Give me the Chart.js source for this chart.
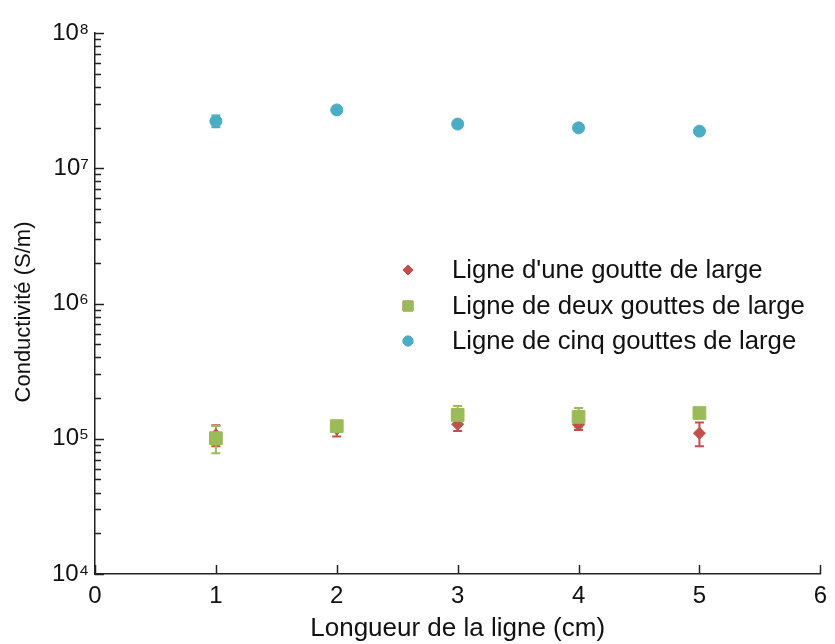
<!DOCTYPE html>
<html>
<head>
<meta charset="utf-8">
<script src="https://cdn.jsdelivr.net/npm/chart.js@4/dist/chart.umd.min.js"></script>
<style>
  html, body { margin: 0; padding: 0; background: #fff; }
  #wrap { width: 835px; height: 644px; }
</style>
</head>
<body>
<div id="wrap"><canvas id="c" width="835" height="644"></canvas></div>
<script>
// Line length (cm)
const lengths = [1, 2, 3, 4, 5];

// Conductivity (S/m) and error for each line width
const oneDrop = [1.07e5, 1.18e5, 1.28e5, 1.27e5, 1.10e5];
const oneDropErr = [1.9e4, 1.4e4, 1.4e4, 1.1e4, 2.2e4];

const twoDrops = [1.01e5, 1.24e5, 1.50e5, 1.45e5, 1.55e5];
const twoDropsErr = [2.3e4, 8e3, 2.5e4, 2.4e4, 1.0e4];

const fiveDrops = [2.23e7, 2.70e7, 2.12e7, 1.99e7, 1.88e7];
const fiveDropsErr = [2.2e6, 1.0e6, 0.8e6, 0.6e6, 0.6e6];

const seriesLabels = [
  "Ligne d'une goutte de large",
  "Ligne de deux gouttes de large",
  "Ligne de cinq gouttes de large"
];

// Axis ticks
const xTickValues = [0, 1, 2, 3, 4, 5, 6];
const yDecades = [1e4, 1e5, 1e6, 1e7, 1e8];
const yTickLabels = ['10\u2074', '10\u2075', '10\u2076', '10\u2077', '10\u2078'];

const RED = '#c0504d', GREEN = '#9bbb59', CYAN = '#4bacc6';
const TEXT = '#111111';

function pts(ys) { return lengths.map((x, i) => ({ x: x, y: ys[i] })); }

// Minor ticks 2..9 within each decade
function logTicks() {
  const t = [];
  for (let d = 0; d < yDecades.length; d++) {
    t.push({ value: yDecades[d], major: true });
    if (d < yDecades.length - 1) {
      for (let m = 2; m <= 9; m++) t.push({ value: yDecades[d] * m, major: false });
    }
  }
  return t;
}

// Error bars, drawn beneath the markers
const errorBars = {
  id: 'errorBars',
  beforeDatasetsDraw(chart) {
    const ctx = chart.ctx, xs = chart.scales.x, ys = chart.scales.y;
    chart.data.datasets.forEach((ds) => {
      ctx.save();
      ctx.strokeStyle = ds.borderColor;
      ctx.lineWidth = 2;
      ds.data.forEach((p, i) => {
        const e = ds.errors[i];
        const px = xs.getPixelForValue(p.x);
        const top = ys.getPixelForValue(p.y + e);
        const bot = ys.getPixelForValue(p.y - e);
        ctx.beginPath();
        ctx.moveTo(px, top); ctx.lineTo(px, bot);
        ctx.moveTo(px - 4.5, top); ctx.lineTo(px + 4.5, top);
        ctx.moveTo(px - 4.5, bot); ctx.lineTo(px + 4.5, bot);
        ctx.stroke();
      });
      ctx.restore();
    });
  }
};

// Inward tick marks, y title and in-plot legend
const decorations = {
  id: 'decorations',
  afterDraw(chart) {
    const ctx = chart.ctx, xs = chart.scales.x, ys = chart.scales.y;
    const a = chart.chartArea;
    ctx.save();
    ctx.strokeStyle = '#222';
    ctx.lineWidth = 1.5;
    ctx.beginPath();
    xs.ticks.forEach(t => {
      const px = Math.round(xs.getPixelForValue(t.value)) + 0.5;
      ctx.moveTo(px, a.bottom); ctx.lineTo(px, a.bottom - 9);
    });
    ys.ticks.forEach(t => {
      const py = Math.round(ys.getPixelForValue(t.value)) + 0.5;
      ctx.moveTo(a.left, py); ctx.lineTo(a.left + (t.major ? 9 : 6), py);
    });
    ctx.stroke();

    // y axis title
    ctx.fillStyle = TEXT;
    ctx.font = '22px "Liberation Sans", Arial, sans-serif';
    ctx.textAlign = 'center';
    ctx.textBaseline = 'middle';
    ctx.translate(24, 312);
    ctx.rotate(-Math.PI / 2);
    ctx.fillText('Conductivit\u00e9 (S/m)', 0, 0);
    ctx.restore();

    // legend
    ctx.save();
    ctx.font = '25.7px "Liberation Sans", Arial, sans-serif';
    ctx.textAlign = 'left';
    ctx.textBaseline = 'middle';
    const rows = [270, 306, 341];
    const styles = ['rectRot', 'rect', 'circle'];
    const radii = [5, 7, 5];
    chart.data.datasets.forEach((ds, i) => {
      Chart.helpers.drawPoint(ctx, {
        pointStyle: styles[i], radius: radii[i], borderWidth: 1, rotation: 0
      }, 408, rows[i]);
      ctx.fillStyle = ds.backgroundColor;
      ctx.strokeStyle = ds.borderColor;
      ctx.fill(); ctx.stroke();
      ctx.fillStyle = TEXT;
      ctx.fillText(ds.label, 452, rows[i] + 1);
    });
    ctx.restore();
  }
};

new Chart(document.getElementById('c'), {
  type: 'scatter',
  data: {
    datasets: [
      { label: seriesLabels[0], data: pts(oneDrop), errors: oneDropErr,
        pointStyle: 'rectRot', pointRadius: 6, pointHoverRadius: 6,
        backgroundColor: RED, borderColor: RED, borderWidth: 1, order: 1 },
      { label: seriesLabels[1], data: pts(twoDrops), errors: twoDropsErr,
        pointStyle: 'rect', pointRadius: 9, pointHoverRadius: 9,
        backgroundColor: GREEN, borderColor: GREEN, borderWidth: 1, order: 0 },
      { label: seriesLabels[2], data: pts(fiveDrops), errors: fiveDropsErr,
        pointStyle: 'circle', pointRadius: 6, pointHoverRadius: 6,
        backgroundColor: CYAN, borderColor: CYAN, borderWidth: 1, order: 2 }
    ]
  },
  options: {
    responsive: false,
    animation: false,
    events: [],
    layout: { padding: { left: 0, right: 10, top: 33, bottom: 0 } },
    plugins: { legend: { display: false }, tooltip: { enabled: false } },
    scales: {
      x: {
        type: 'linear', min: 0, max: 6,
        afterBuildTicks: (s) => { s.ticks = xTickValues.map(v => ({ value: v })); },
        afterFit: (s) => { s.height = 70; },
        grid: { display: false, drawTicks: false },
        border: { display: true, color: '#222', width: 1.5 },
        ticks: { color: TEXT, padding: 8, autoSkip: false, maxRotation: 0,
          font: { family: '"Liberation Sans", Arial, sans-serif', size: 24 } },
        title: { display: true, text: 'Longueur de la ligne (cm)', color: TEXT,
          padding: { top: 0, bottom: 0 },
          font: { family: '"Liberation Sans", Arial, sans-serif', size: 26 } }
      },
      y: {
        type: 'logarithmic', min: 1e4, max: 1e8,
        afterBuildTicks: (s) => { s.ticks = logTicks(); },
        afterFit: (s) => { s.width = 95; },
        grid: { display: false, drawTicks: false },
        border: { display: true, color: '#222', width: 1.5 },
        ticks: {
          color: TEXT, padding: 6, autoSkip: false,
          font: { family: '"Liberation Sans", Arial, sans-serif', size: 24 },
          callback: (v) => {
            const i = yDecades.indexOf(v);
            return i >= 0 ? yTickLabels[i] : '';
          }
        }
      }
    }
  },
  plugins: [errorBars, decorations]
});
</script>
</body>
</html>
